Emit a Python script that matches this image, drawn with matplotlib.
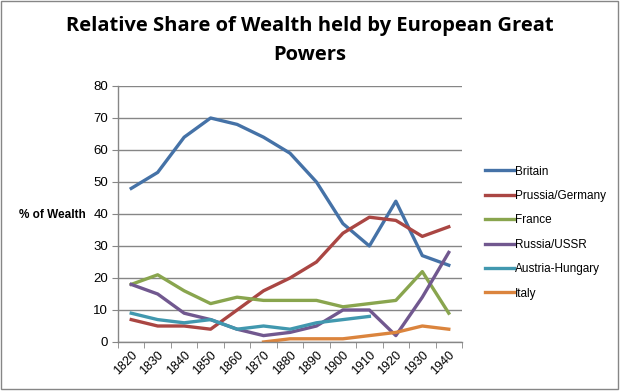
import matplotlib
matplotlib.use("Agg")
import matplotlib.pyplot as plt
import numpy as np
from matplotlib.patches import Rectangle

years = [1820, 1830, 1840, 1850, 1860, 1870, 1880, 1890, 1900, 1910, 1920, 1930, 1940]
britain = [48, 53, 64, 70, 68, 64, 59, 50, 37, 30, 44, 27, 24]
germany = [7, 5, 5, 4, 10, 16, 20, 25, 34, 39, 38, 33, 36]
france = [18, 21, 16, 12, 14, 13, 13, 13, 11, 12, 13, 22, 9]
russia = [18, 15, 9, 7, 4, 2, 3, 5, 10, 10, 2, 14, 28]
austria = [9, 7, 6, 7, 4, 5, 4, 6, 7, 8, None, None, None]
italy = [None, None, None, None, None, 0, 1, 1, 1, 2, 3, 5, 4]

series = [
    ("Britain", britain, "#4572A7"),
    ("Prussia/Germany", germany, "#AA4643"),
    ("France", france, "#89A54E"),
    ("Russia/USSR", russia, "#71588F"),
    ("Austria-Hungary", austria, "#4198AF"),
    ("Italy", italy, "#DB843D"),
]

plt.rcParams['font.family'] = ['Open Sans', 'DejaVu Sans']

fig = plt.figure(figsize=(6.2, 3.91), dpi=100)
ax = fig.add_axes([118/620, 49/391, (462-118)/620, (342-86)/391])

x = np.arange(len(years))
for name, vals, col in series:
    y = np.array([np.nan if v is None else v for v in vals], dtype=float)
    ax.plot(x, y, color=col, lw=2.4, label=name, solid_joinstyle='round')

ax.set_xlim(-0.5, len(years) - 0.5)
ax.set_ylim(0, 80)
ax.set_yticks(range(0, 81, 10))
ax.set_xticks(x)
ax.set_xticklabels([str(v) for v in years], rotation=45, ha='right', rotation_mode='anchor', fontsize=9, family='Liberation Sans')
ax.set_xticks(np.arange(-0.5, len(years)), minor=True)
ax.tick_params(axis='x', which='major', length=0, pad=5)
ax.tick_params(axis='x', which='minor', length=4, color='#868686', direction='out')
ax.tick_params(axis='y', length=4, color='#868686', labelsize=9.5, pad=3)
for lbl in ax.get_yticklabels():
    lbl.set_family('Liberation Sans')
ax.yaxis.grid(True, color='#868686', lw=1)
ax.set_axisbelow(True)
for s in ['top', 'right']:
    ax.spines[s].set_visible(False)
for s in ['left', 'bottom']:
    ax.spines[s].set_color('#868686')
    ax.spines[s].set_linewidth(1)

fig.text(52/620, 1 - 215/391, "% of Wealth", ha='center', va='center', fontsize=8.5, fontweight='bold', family='Liberation Sans')
fig.text(0.5, 1 - 26/391, "Relative Share of Wealth held by European Great", ha='center', va='center', fontsize=14.5, fontweight='bold')
fig.text(0.5, 1 - 55/391, "Powers", ha='center', va='center', fontsize=14.5, fontweight='bold')

leg = fig.legend(loc='upper left', bbox_to_anchor=(474/620, 1 - 155/391), frameon=False,
                 handlelength=2.5, labelspacing=1.05, handletextpad=0.05,
                 prop={'family': 'Liberation Sans', 'size': 8.5})

fig.patches.append(Rectangle((0.002, 0.005), 0.994, 0.992, transform=fig.transFigure,
                             fill=False, edgecolor='#868686', lw=1))

fig.savefig("out.png", dpi=100)
